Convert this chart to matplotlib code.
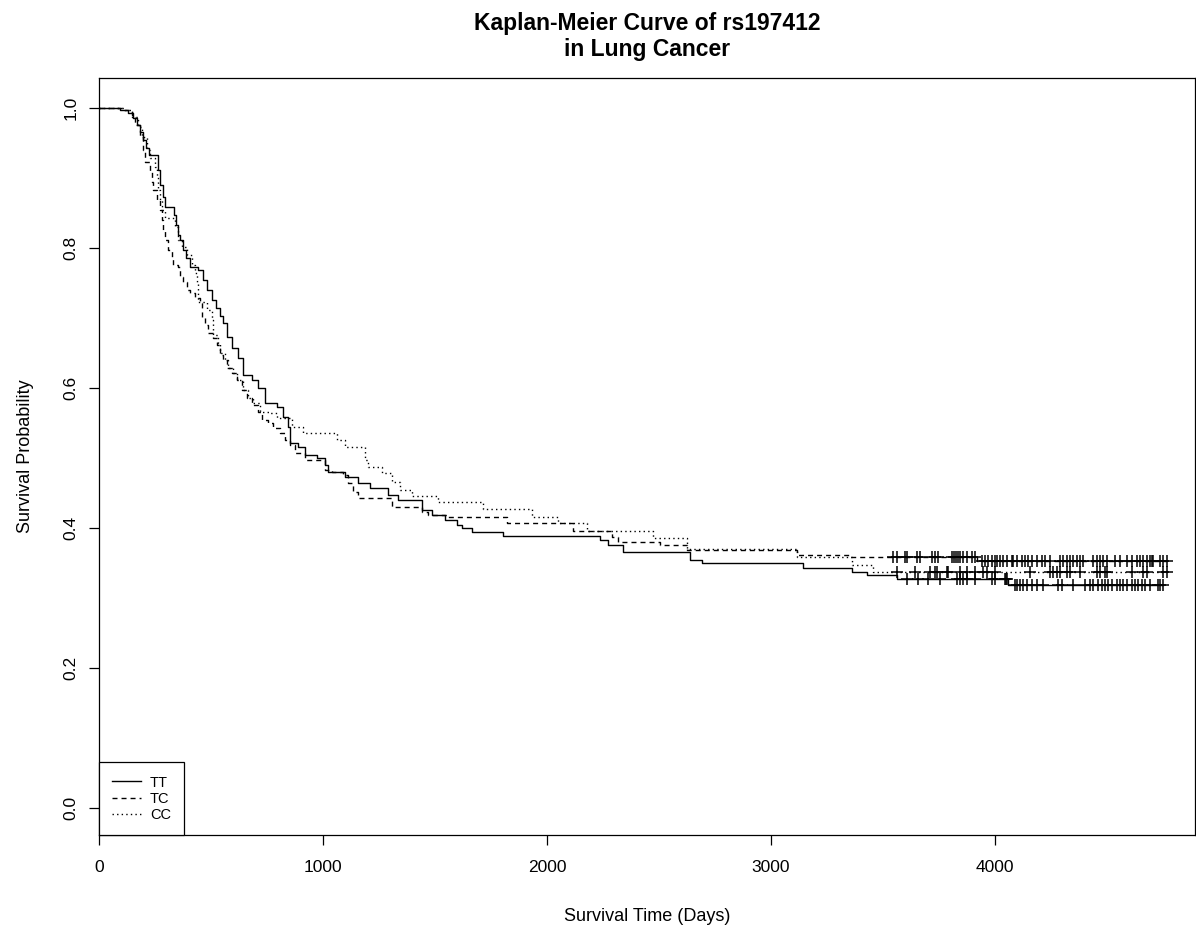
#-----------------------------------------------------------------------------#
#Reads in the relevant packages.
#-----------------------------------------------------------------------------#

import numpy as np
import matplotlib
matplotlib.use('Agg')
import matplotlib.pyplot as plt
from matplotlib.lines import Line2D

plt.rcParams['font.family']=['Liberation Sans','DejaVu Sans']

#-----------------------------------------------------------------------------#
#Kaplan-Meier estimates per genotype: event times (days) and survival after
#each event, plus the censored times for the '+' marks.
#-----------------------------------------------------------------------------#

groups=['TT','TC','CC']

tt_time=[94,129,152,170,183,196,210,223,263,272,286,295,335,344,353,362,375,388,
         406,442,464,482,504,522,540,554,571,594,621,643,683,710,741,795,821,844,
         853,888,920,973,1009,1022,1098,1156,1210,1290,1335,1442,1487,1545,1598,
         1620,1665,1804,2237,2272,2339,2638,2692,3143,3361,3428,3562,4058]
tt_surv=[0.997,0.993,0.986,0.976,0.966,0.954,0.943,0.933,0.911,0.890,0.873,0.859,
         0.847,0.833,0.819,0.811,0.797,0.786,0.773,0.769,0.754,0.740,0.726,0.714,
         0.703,0.693,0.673,0.657,0.643,0.619,0.611,0.600,0.579,0.573,0.559,0.544,
         0.521,0.516,0.504,0.500,0.490,0.480,0.473,0.464,0.457,0.447,0.440,0.426,
         0.419,0.411,0.404,0.400,0.394,0.389,0.383,0.376,0.366,0.354,0.350,0.343,
         0.337,0.333,0.327,0.319]
tt_cens=[3607,3656,3701,3754,3830,3844,3857,3875,3911,3987,4000,4045,4049,4054,
         4089,4098,4112,4125,4143,4165,4187,4214,4281,4299,4348,4402,4424,4437,
         4460,4478,4491,4504,4522,4545,4558,4571,4589,4612,4625,4638,4656,4670,
         4692,4728,4737,4750]

tc_time=[103,147,161,183,196,205,228,237,241,259,272,281,286,295,308,326,330,353,
         362,375,393,406,429,451,460,473,487,509,527,540,554,571,594,616,638,661,
         683,710,728,754,777,808,830,853,875,920,1009,1040,1089,1112,1134,1156,
         1308,1442,1469,1554,1821,2116,2290,2317,2504,2625,3116,3353,3920]
tc_surv=[0.997,0.990,0.976,0.959,0.940,0.923,0.909,0.894,0.883,0.869,0.854,0.840,
         0.826,0.811,0.797,0.787,0.776,0.773,0.759,0.751,0.740,0.736,0.729,0.721,
         0.701,0.690,0.679,0.671,0.661,0.647,0.640,0.629,0.621,0.611,0.597,0.586,
         0.576,0.566,0.554,0.550,0.543,0.536,0.526,0.519,0.507,0.497,0.483,0.480,
         0.476,0.464,0.451,0.443,0.430,0.423,0.419,0.416,0.407,0.396,0.387,0.380,
         0.376,0.369,0.361,0.359,0.353]
tc_cens=[3545,3562,3598,3607,3652,3665,3719,3732,3745,3808,3817,3826,3835,3844,
         3857,3875,3897,3911,3942,3955,3969,3987,4000,4009,4022,4036,4054,4076,
         4080,4098,4121,4134,4147,4165,4187,4210,4223,4246,4290,4304,4321,4335,
         4348,4366,4379,4393,4437,4455,4469,4482,4500,4536,4558,4589,4612,4634,
         4647,4661,4679,4692,4701,4705,4737,4750,4766]

cc_time=[116,147,174,192,214,228,250,259,263,272,281,295,339,353,371,393,415,429,
         437,442,482,504,509,531,540,562,576,598,616,643,665,687,719,763,795,862,
         911,1062,1098,1187,1201,1263,1308,1344,1397,1513,1714,1933,2049,2178,
         2473,2625,3116,3361,3455]
cc_surv=[0.997,0.987,0.973,0.959,0.940,0.929,0.916,0.901,0.883,0.869,0.854,0.843,
         0.830,0.811,0.801,0.790,0.776,0.764,0.751,0.723,0.711,0.697,0.676,0.664,
         0.650,0.640,0.629,0.621,0.611,0.597,0.586,0.579,0.566,0.564,0.557,0.544,
         0.536,0.526,0.516,0.497,0.487,0.479,0.466,0.454,0.446,0.437,0.427,0.416,
         0.407,0.396,0.386,0.370,0.359,0.347,0.337]
cc_cens=[3562,3643,3710,3732,3741,3786,3790,3844,3875,3911,3946,3964,4000,4156,
         4246,4259,4277,4290,4321,4335,4379,4455,4469,4491,4500,4612,4661,4679,
         4750,4770]

#-----------------------------------------------------------------------------#
#Builds the step function S(t) for one group and evaluates it at the censors.
#-----------------------------------------------------------------------------#

def km_steps(times,surv,cens):
    t=np.concatenate(([0.],np.array(times,float),[max(cens)]))
    s=np.concatenate(([1.],np.array(surv,float),[surv[-1]]))
    idx=np.searchsorted(t,np.array(cens,float),side='right')-1
    return t,s,np.array(cens,float),s[idx]

styles=['-',(0,(3.6,2.9)),(0,(1.0,2.3))]
data=[(tt_time,tt_surv,tt_cens),(tc_time,tc_surv,tc_cens),(cc_time,cc_surv,cc_cens)]

#-----------------------------------------------------------------------------#
#Plots the curves
#-----------------------------------------------------------------------------#

fig=plt.figure(figsize=(11.96,9.30),dpi=100)
ax=fig.add_axes([99/1196,95/930,1096/1196,757/930])

for (times,surv,cens),ls in zip(data,styles):
    t,s,ct,cs=km_steps(times,surv,cens)
    ax.step(t,s,where='post',color='black',linewidth=1.0,linestyle=ls)
    ax.plot(ct,cs,linestyle='none',marker='+',markersize=8,
            markeredgewidth=1.1,color='black')

ax.set_xlim(0,4893)
ax.set_ylim(-0.0386,1.043)
ax.set_xticks([0,1000,2000,3000,4000])
ax.set_yticks([0.0,0.2,0.4,0.6,0.8,1.0])
ax.set_yticklabels(['0.0','0.2','0.4','0.6','0.8','1.0'],rotation=90,va='center')
ax.tick_params(axis='both',direction='out',length=7,width=0.9,labelsize=12.5,
               colors='black')
ax.tick_params(axis='x',pad=11)
ax.tick_params(axis='y',pad=8)
for sp in ax.spines.values():
    sp.set_linewidth(0.9)
    sp.set_color('black')

ax.set_xlabel('Survival Time (Days)',fontsize=13,labelpad=24)
ax.set_ylabel('Survival Probability',fontsize=13,labelpad=21)
ax.set_title('Kaplan-Meier Curve of rs197412\nin Lung Cancer',fontsize=16.5,
             fontweight='bold',pad=15.5,linespacing=1.17)

handles=[Line2D([],[],color='black',linewidth=1.0,linestyle=ls) for ls in styles]
leg=ax.legend(handles,groups,loc='lower left',fontsize=10.5,frameon=True,
              fancybox=False,framealpha=1,edgecolor='black',borderaxespad=0,
              handlelength=2.0,handletextpad=0.6,labelspacing=0.15,
              borderpad=0.9)
leg.get_frame().set_linewidth(0.9)

fig.savefig('out.png',dpi=100)
